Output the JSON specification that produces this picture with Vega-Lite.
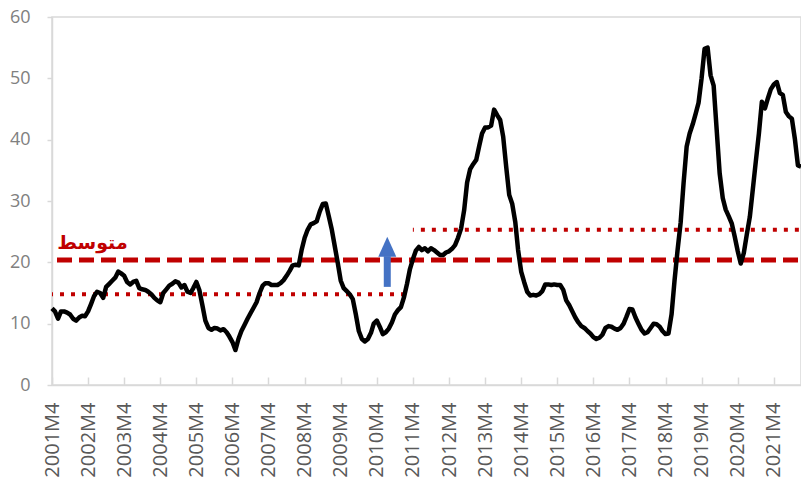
{
  "$schema": "https://vega.github.io/schema/vega-lite/v6.json",
  "width": 749,
  "height": 368,
  "autosize": "none",
  "padding": {"left": 52, "top": 17, "right": 0, "bottom": 93},
  "background": "white",
  "config": {"view": {"stroke": "#d9d9d9", "strokeWidth": 1.5}, "font": "Open Sans", "axis": {"labelOverlap": false, "labelSeparation": 0}},
  "datasets": {
    "series": [
      {"month": "2001/04/01", "value": 12.5}, {"month": "2001/05/01", "value": 12.0}, {"month": "2001/06/01", "value": 10.8}, {"month": "2001/07/01", "value": 12.0}, {"month": "2001/08/01", "value": 12.0}, {"month": "2001/09/01", "value": 11.8}, {"month": "2001/10/01", "value": 11.5}, {"month": "2001/11/01", "value": 10.8}, {"month": "2001/12/01", "value": 10.5},
      {"month": "2002/01/01", "value": 11.0}, {"month": "2002/02/01", "value": 11.3}, {"month": "2002/03/01", "value": 11.2}, {"month": "2002/04/01", "value": 12.0}, {"month": "2002/05/01", "value": 13.2}, {"month": "2002/06/01", "value": 14.5}, {"month": "2002/07/01", "value": 15.2}, {"month": "2002/08/01", "value": 15.0}, {"month": "2002/09/01", "value": 14.2}, {"month": "2002/10/01", "value": 16.0}, {"month": "2002/11/01", "value": 16.5}, {"month": "2002/12/01", "value": 17.0},
      {"month": "2003/01/01", "value": 17.5}, {"month": "2003/02/01", "value": 18.5}, {"month": "2003/03/01", "value": 18.2}, {"month": "2003/04/01", "value": 17.8}, {"month": "2003/05/01", "value": 16.8}, {"month": "2003/06/01", "value": 16.4}, {"month": "2003/07/01", "value": 16.8}, {"month": "2003/08/01", "value": 17.0}, {"month": "2003/09/01", "value": 15.8}, {"month": "2003/10/01", "value": 15.6}, {"month": "2003/11/01", "value": 15.5}, {"month": "2003/12/01", "value": 15.2},
      {"month": "2004/01/01", "value": 14.8}, {"month": "2004/02/01", "value": 14.2}, {"month": "2004/03/01", "value": 13.8}, {"month": "2004/04/01", "value": 13.5}, {"month": "2004/05/01", "value": 15.0}, {"month": "2004/06/01", "value": 15.6}, {"month": "2004/07/01", "value": 16.2}, {"month": "2004/08/01", "value": 16.5}, {"month": "2004/09/01", "value": 16.9}, {"month": "2004/10/01", "value": 16.7}, {"month": "2004/11/01", "value": 15.9}, {"month": "2004/12/01", "value": 16.3},
      {"month": "2005/01/01", "value": 15.2}, {"month": "2005/02/01", "value": 15.0}, {"month": "2005/03/01", "value": 15.8}, {"month": "2005/04/01", "value": 16.8}, {"month": "2005/05/01", "value": 15.5}, {"month": "2005/06/01", "value": 13.0}, {"month": "2005/07/01", "value": 10.5}, {"month": "2005/08/01", "value": 9.3}, {"month": "2005/09/01", "value": 9.0}, {"month": "2005/10/01", "value": 9.3}, {"month": "2005/11/01", "value": 9.2}, {"month": "2005/12/01", "value": 8.9},
      {"month": "2006/01/01", "value": 9.1}, {"month": "2006/02/01", "value": 8.6}, {"month": "2006/03/01", "value": 7.9}, {"month": "2006/04/01", "value": 7.0}, {"month": "2006/05/01", "value": 5.7}, {"month": "2006/06/01", "value": 7.5}, {"month": "2006/07/01", "value": 8.8}, {"month": "2006/08/01", "value": 9.8}, {"month": "2006/09/01", "value": 10.8}, {"month": "2006/10/01", "value": 11.7}, {"month": "2006/11/01", "value": 12.6}, {"month": "2006/12/01", "value": 13.5},
      {"month": "2007/01/01", "value": 15.0}, {"month": "2007/02/01", "value": 16.2}, {"month": "2007/03/01", "value": 16.6}, {"month": "2007/04/01", "value": 16.6}, {"month": "2007/05/01", "value": 16.3}, {"month": "2007/06/01", "value": 16.3}, {"month": "2007/07/01", "value": 16.3}, {"month": "2007/08/01", "value": 16.6}, {"month": "2007/09/01", "value": 17.1}, {"month": "2007/10/01", "value": 17.8}, {"month": "2007/11/01", "value": 18.6}, {"month": "2007/12/01", "value": 19.5},
      {"month": "2008/01/01", "value": 19.6}, {"month": "2008/02/01", "value": 19.5}, {"month": "2008/03/01", "value": 22.0}, {"month": "2008/04/01", "value": 24.0}, {"month": "2008/05/01", "value": 25.3}, {"month": "2008/06/01", "value": 26.2}, {"month": "2008/07/01", "value": 26.4}, {"month": "2008/08/01", "value": 26.7}, {"month": "2008/09/01", "value": 28.3}, {"month": "2008/10/01", "value": 29.5}, {"month": "2008/11/01", "value": 29.6}, {"month": "2008/12/01", "value": 27.5},
      {"month": "2009/01/01", "value": 25.3}, {"month": "2009/02/01", "value": 22.5}, {"month": "2009/03/01", "value": 20.0}, {"month": "2009/04/01", "value": 17.0}, {"month": "2009/05/01", "value": 15.8}, {"month": "2009/06/01", "value": 15.3}, {"month": "2009/07/01", "value": 14.8}, {"month": "2009/08/01", "value": 14.0}, {"month": "2009/09/01", "value": 11.5}, {"month": "2009/10/01", "value": 8.8}, {"month": "2009/11/01", "value": 7.5}, {"month": "2009/12/01", "value": 7.1},
      {"month": "2010/01/01", "value": 7.5}, {"month": "2010/02/01", "value": 8.5}, {"month": "2010/03/01", "value": 10.0}, {"month": "2010/04/01", "value": 10.5}, {"month": "2010/05/01", "value": 9.5}, {"month": "2010/06/01", "value": 8.3}, {"month": "2010/07/01", "value": 8.6}, {"month": "2010/08/01", "value": 9.2}, {"month": "2010/09/01", "value": 10.2}, {"month": "2010/10/01", "value": 11.5}, {"month": "2010/11/01", "value": 12.2}, {"month": "2010/12/01", "value": 12.7},
      {"month": "2011/01/01", "value": 14.3}, {"month": "2011/02/01", "value": 16.5}, {"month": "2011/03/01", "value": 18.8}, {"month": "2011/04/01", "value": 20.5}, {"month": "2011/05/01", "value": 21.9}, {"month": "2011/06/01", "value": 22.5}, {"month": "2011/07/01", "value": 22.0}, {"month": "2011/08/01", "value": 22.3}, {"month": "2011/09/01", "value": 21.8}, {"month": "2011/10/01", "value": 22.3}, {"month": "2011/11/01", "value": 22.0}, {"month": "2011/12/01", "value": 21.6},
      {"month": "2012/01/01", "value": 21.2}, {"month": "2012/02/01", "value": 21.2}, {"month": "2012/03/01", "value": 21.6}, {"month": "2012/04/01", "value": 21.8}, {"month": "2012/05/01", "value": 22.2}, {"month": "2012/06/01", "value": 22.8}, {"month": "2012/07/01", "value": 24.0}, {"month": "2012/08/01", "value": 25.5}, {"month": "2012/09/01", "value": 28.5}, {"month": "2012/10/01", "value": 33.0}, {"month": "2012/11/01", "value": 35.2}, {"month": "2012/12/01", "value": 36.0},
      {"month": "2013/01/01", "value": 36.7}, {"month": "2013/02/01", "value": 39.0}, {"month": "2013/03/01", "value": 41.0}, {"month": "2013/04/01", "value": 42.0}, {"month": "2013/05/01", "value": 42.0}, {"month": "2013/06/01", "value": 42.3}, {"month": "2013/07/01", "value": 44.9}, {"month": "2013/08/01", "value": 44.0}, {"month": "2013/09/01", "value": 43.2}, {"month": "2013/10/01", "value": 40.5}, {"month": "2013/11/01", "value": 35.5}, {"month": "2013/12/01", "value": 31.0},
      {"month": "2014/01/01", "value": 29.5}, {"month": "2014/02/01", "value": 26.5}, {"month": "2014/03/01", "value": 22.0}, {"month": "2014/04/01", "value": 18.5}, {"month": "2014/05/01", "value": 16.8}, {"month": "2014/06/01", "value": 15.2}, {"month": "2014/07/01", "value": 14.6}, {"month": "2014/08/01", "value": 14.7}, {"month": "2014/09/01", "value": 14.6}, {"month": "2014/10/01", "value": 14.8}, {"month": "2014/11/01", "value": 15.3}, {"month": "2014/12/01", "value": 16.4},
      {"month": "2015/01/01", "value": 16.4}, {"month": "2015/02/01", "value": 16.3}, {"month": "2015/03/01", "value": 16.4}, {"month": "2015/04/01", "value": 16.3}, {"month": "2015/05/01", "value": 16.3}, {"month": "2015/06/01", "value": 15.5}, {"month": "2015/07/01", "value": 13.8}, {"month": "2015/08/01", "value": 13.0}, {"month": "2015/09/01", "value": 12.0}, {"month": "2015/10/01", "value": 11.0}, {"month": "2015/11/01", "value": 10.2}, {"month": "2015/12/01", "value": 9.6},
      {"month": "2016/01/01", "value": 9.3}, {"month": "2016/02/01", "value": 8.8}, {"month": "2016/03/01", "value": 8.4}, {"month": "2016/04/01", "value": 7.8}, {"month": "2016/05/01", "value": 7.5}, {"month": "2016/06/01", "value": 7.7}, {"month": "2016/07/01", "value": 8.2}, {"month": "2016/08/01", "value": 9.3}, {"month": "2016/09/01", "value": 9.6}, {"month": "2016/10/01", "value": 9.5}, {"month": "2016/11/01", "value": 9.2}, {"month": "2016/12/01", "value": 9.0},
      {"month": "2017/01/01", "value": 9.3}, {"month": "2017/02/01", "value": 10.0}, {"month": "2017/03/01", "value": 11.1}, {"month": "2017/04/01", "value": 12.4}, {"month": "2017/05/01", "value": 12.3}, {"month": "2017/06/01", "value": 11.0}, {"month": "2017/07/01", "value": 10.0}, {"month": "2017/08/01", "value": 9.0}, {"month": "2017/09/01", "value": 8.4}, {"month": "2017/10/01", "value": 8.6}, {"month": "2017/11/01", "value": 9.3}, {"month": "2017/12/01", "value": 10.0},
      {"month": "2018/01/01", "value": 9.9}, {"month": "2018/02/01", "value": 9.5}, {"month": "2018/03/01", "value": 8.8}, {"month": "2018/04/01", "value": 8.3}, {"month": "2018/05/01", "value": 8.4}, {"month": "2018/06/01", "value": 11.5}, {"month": "2018/07/01", "value": 17.0}, {"month": "2018/08/01", "value": 22.0}, {"month": "2018/09/01", "value": 26.5}, {"month": "2018/10/01", "value": 33.0}, {"month": "2018/11/01", "value": 38.9}, {"month": "2018/12/01", "value": 41.0},
      {"month": "2019/01/01", "value": 42.5}, {"month": "2019/02/01", "value": 44.3}, {"month": "2019/03/01", "value": 46.0}, {"month": "2019/04/01", "value": 50.0}, {"month": "2019/05/01", "value": 54.8}, {"month": "2019/06/01", "value": 55.0}, {"month": "2019/07/01", "value": 50.5}, {"month": "2019/08/01", "value": 48.8}, {"month": "2019/09/01", "value": 41.5}, {"month": "2019/10/01", "value": 34.5}, {"month": "2019/11/01", "value": 30.5}, {"month": "2019/12/01", "value": 28.6},
      {"month": "2020/01/01", "value": 27.5}, {"month": "2020/02/01", "value": 26.3}, {"month": "2020/03/01", "value": 24.2}, {"month": "2020/04/01", "value": 21.8}, {"month": "2020/05/01", "value": 19.8}, {"month": "2020/06/01", "value": 21.5}, {"month": "2020/07/01", "value": 24.5}, {"month": "2020/08/01", "value": 27.4}, {"month": "2020/09/01", "value": 32.0}, {"month": "2020/10/01", "value": 36.5}, {"month": "2020/11/01", "value": 41.0}, {"month": "2020/12/01", "value": 46.2},
      {"month": "2021/01/01", "value": 45.1}, {"month": "2021/02/01", "value": 46.8}, {"month": "2021/03/01", "value": 48.2}, {"month": "2021/04/01", "value": 49.0}, {"month": "2021/05/01", "value": 49.4}, {"month": "2021/06/01", "value": 47.6}, {"month": "2021/07/01", "value": 47.3}, {"month": "2021/08/01", "value": 44.5}, {"month": "2021/09/01", "value": 43.8}, {"month": "2021/10/01", "value": 43.4}, {"month": "2021/11/01", "value": 40.0}, {"month": "2021/12/01", "value": 35.8},
      {"month": "2022/01/01", "value": 35.6}
    ]
  },
  "layer": [
    {
      "data": {"values": [{"from": "2001/04/01", "to": "2022/01/01", "level": 20.4}]},
      "mark": {"type": "rule", "color": "#c00000", "strokeWidth": 5, "strokeDash": [15, 7], "strokeDashOffset": -5},
      "encoding": {
        "x": {
          "field": "from", "type": "temporal", "title": null,
          "scale": {"domain": [{"year": 2001, "month": 4, "date": 1}, {"year": 2022, "month": 1, "date": 1}], "nice": false},
          "axis": {
            "values": [
              {"year": 2001, "month": 4, "date": 1}, {"year": 2002, "month": 4, "date": 1}, {"year": 2003, "month": 4, "date": 1}, {"year": 2004, "month": 4, "date": 1}, {"year": 2005, "month": 4, "date": 1}, {"year": 2006, "month": 4, "date": 1}, {"year": 2007, "month": 4, "date": 1}, {"year": 2008, "month": 4, "date": 1}, {"year": 2009, "month": 4, "date": 1}, {"year": 2010, "month": 4, "date": 1}, {"year": 2011, "month": 4, "date": 1}, {"year": 2012, "month": 4, "date": 1}, {"year": 2013, "month": 4, "date": 1}, {"year": 2014, "month": 4, "date": 1}, {"year": 2015, "month": 4, "date": 1}, {"year": 2016, "month": 4, "date": 1}, {"year": 2017, "month": 4, "date": 1}, {"year": 2018, "month": 4, "date": 1}, {"year": 2019, "month": 4, "date": 1}, {"year": 2020, "month": 4, "date": 1}, {"year": 2021, "month": 4, "date": 1}
            ],
            "tickCount": 40,
            "format": "%YM4",
            "labelAngle": -90,
            "labelFontSize": 20,
            "labelColor": "#595959",
            "labelPadding": 25,
            "labelFlush": false,
            "labelOverlap": false,
            "labelSeparation": 0,
            "domainColor": "#d9d9d9",
            "domainWidth": 1.5,
            "tickColor": "#d9d9d9",
            "tickWidth": 1.5,
            "tickSize": -8,
            "grid": false
          }
        },
        "x2": {"field": "to"},
        "y": {
          "field": "level", "type": "quantitative", "title": null,
          "scale": {"domain": [0, 60], "nice": false},
          "axis": {
            "values": [0, 10, 20, 30, 40, 50, 60],
            "labelFontSize": 18,
            "labelColor": "#808080",
            "labelPadding": 17,
            "domainColor": "#d9d9d9",
            "domainWidth": 1.5,
            "tickColor": "#d9d9d9",
            "tickWidth": 1.5,
            "tickSize": 5,
            "grid": false
          }
        }
      }
    },
    {
      "data": {"values": [{"from": "2001/04/01", "to": "2011/01/01", "level": 14.8}, {"from": "2011/04/01", "to": "2022/01/01", "level": 25.3}]},
      "mark": {"type": "rule", "color": "#c00000", "strokeWidth": 4, "strokeDash": [4, 7], "strokeDashOffset": -8},
      "encoding": {
        "x": {"field": "from", "type": "temporal", "title": null},
        "x2": {"field": "to"},
        "y": {"field": "level", "type": "quantitative", "title": null}
      }
    },
    {
      "data": {"name": "series"},
      "mark": {"type": "line", "color": "#000000", "strokeWidth": 4.5, "strokeJoin": "round"},
      "encoding": {
        "x": {"field": "month", "type": "temporal", "title": null},
        "y": {"field": "value", "type": "quantitative", "title": null}
      }
    },
    {
      "data": {"values": [{"when": "2010/07/16", "base": 16.0, "neck": 21.0, "head": 22.55}]},
      "layer": [
        {
          "mark": {"type": "rule", "color": "#4472c4", "strokeWidth": 7, "strokeCap": "butt"},
          "encoding": {
            "x": {"field": "when", "type": "temporal", "title": null},
            "y": {"field": "base", "type": "quantitative", "title": null},
            "y2": {"field": "neck"}
          }
        },
        {
          "mark": {"type": "point", "shape": "M0,-1L-0.9,1L0.9,1Z", "size": 400, "filled": true, "color": "#4472c4", "opacity": 1},
          "encoding": {
            "x": {"field": "when", "type": "temporal", "title": null},
            "y": {"field": "head", "type": "quantitative", "title": null}
          }
        }
      ]
    },
    {
      "data": {"values": [{"when": "2002/05/15", "level": 23.1, "label": "متوسط"}]},
      "mark": {"type": "text", "color": "#c00000", "fontSize": 19, "fontWeight": "bold", "font": "DejaVu Sans", "align": "center", "baseline": "middle"},
      "encoding": {
        "x": {"field": "when", "type": "temporal", "title": null},
        "y": {"field": "level", "type": "quantitative", "title": null},
        "text": {"field": "label"}
      }
    }
  ]
}
